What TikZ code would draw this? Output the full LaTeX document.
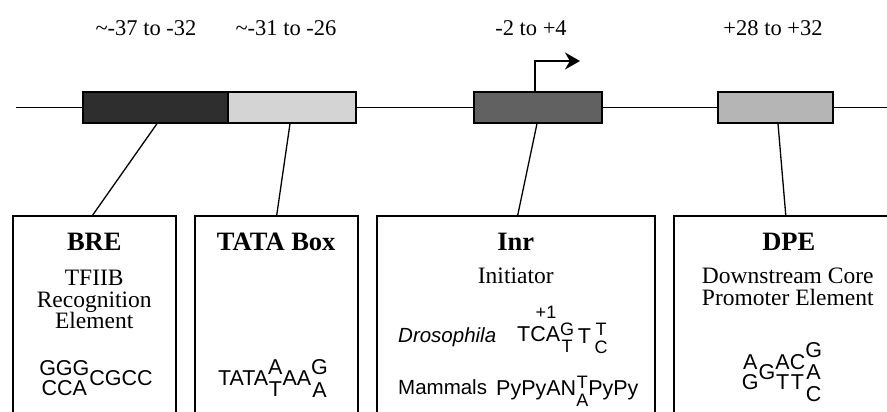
\documentclass[tikz,border=0pt]{standalone}
\usepackage{fontspec}
\setmainfont{Liberation Serif}
\setsansfont{Liberation Sans}
\usetikzlibrary{arrows.meta, positioning}

\definecolor{breclr}{gray}{0.18}
\definecolor{tataclr}{gray}{0.83}
\definecolor{inrclr}{gray}{0.38}
\definecolor{dpeclr}{gray}{0.71}

% bases stacked on top of each other, centred on the axis
\newcommand{\stk}[1]{$\vcenter{\hbox{\shortstack{#1}}}$}
\newcommand{\cen}[1]{$\vcenter{\hbox{#1}}$}
\newcommand{\smallbases}{\fontsize{18}{19}\selectfont}

\begin{document}
\begin{tikzpicture}[
    x=1pt, y=-1pt,
    seg/.style={
        draw, line width=1.3pt,
        minimum height=31pt,
        inner sep=0pt
    },
    panel/.style={
        draw, line width=1.5pt,
        anchor=north west,
        minimum height=240pt,
        inner sep=0pt
    },
    poslabel/.style={font=\fontsize{22.5}{24}\selectfont, anchor=base},
    head/.style={font=\fontsize{26.5}{28}\selectfont\bfseries, anchor=north, inner sep=0pt},
    desc/.style={font=\fontsize{23.5}{21.5}\selectfont, align=center, anchor=north, inner sep=0pt},
    seq/.style={font=\sffamily\fontsize{21.5}{23}\selectfont, inner sep=0pt},
    species/.style={font=\sffamily\fontsize{20.5}{22}\selectfont, anchor=base west, inner sep=0pt},
    link/.style={line width=1.3pt},
    tss/.style={line width=1.8pt, -{Stealth[length=15pt,width=17pt]}}
]

\useasboundingbox (0,0) rectangle (887,412);
\clip (0,0) rectangle (887,412);

% ===== DNA LINE =====
\coordinate (dnaL) at (16,108);
\coordinate (dnaR) at (890,108);
\draw[line width=1pt] (dnaL) -- (dnaR);

% ===== ELEMENTS ON THE PROMOTER =====
\node[seg, fill=breclr, minimum width=145pt] (bre) at (155.5,107.5) {};
\node[seg, fill=tataclr, minimum width=128pt] (tata) at (292,107.5) {};
\node[seg, fill=inrclr, minimum width=128pt] (inr) at (538,107.5) {};
\node[seg, fill=dpeclr, minimum width=115pt] (dpe) at (775.5,107.5) {};

% positions
\node[poslabel] (pbre) at (146,36) {\textasciitilde-37 to -32};
\node[poslabel] (ptata) at (286,36) {\textasciitilde-31 to -26};
\node[poslabel] (pinr) at (531,36) {-2 to +4};
\node[poslabel] (pdpe) at (773,36) {+28 to +32};

% start of transcription
\coordinate (tssfoot) at ([xshift=-3pt]inr.north);
\coordinate (tssend) at (580,61);
\draw[tss] (tssfoot) |- (tssend);

% ===== PANELS =====
\node[panel, minimum width=163pt] (brep) at (12,215) {};
\node[panel, minimum width=163pt] (tatap) at (194,215) {};
\node[panel, minimum width=278pt] (inrp) at (376,215) {};
\node[panel, minimum width=230pt] (dpep) at (673,215) {};

\draw[link] ([xshift=1.5pt]bre.south) -- ([xshift=-1.5pt]brep.north);
\draw[link] ([xshift=-2pt]tata.south) -- ([xshift=0.5pt]tatap.north);
\draw[link] ([xshift=-1pt]inr.south) -- ([xshift=2pt]inrp.north);
\draw[link] ([xshift=2.5pt]dpe.south) -- ([xshift=-3pt]dpep.north);

% BRE
\node[head] (hbre) at ([yshift=-18pt]brep.north) {BRE};
\node[desc] (dbre) at ([yshift=-55pt]brep.north) {TFIIB\\Recognition\\Element};
\node[seq] (sbre) at (96,378) {\stk{GGG\\[2pt]CCA}\cen{CGCC}};

% TATA
\node[head] (htata) at ([yshift=-18pt]tatap.north) {TATA Box};
\node[seq] (stata) at (273,378) {\cen{TATA}\stk{A\\[5pt]T}\cen{AA}\stk{G\\[5pt]A}};

% Inr
\node[head] (hinr) at ([yshift=-18pt]inrp.north) {Inr};
\node[desc] (dinr) at ([yshift=-53pt]inrp.north) {Initiator};
\node[species, font=\sffamily\itshape\fontsize{20.5}{22}\selectfont] (ldro) at (398,342) {Drosophila};
\node[seq, anchor=west] (sdro) at (517,338)
    {\cen{TCA}\raisebox{-3pt}{\smallbases\stk{G\\[2pt]T}}\,\raisebox{-2pt}{\cen{T}}\,\raisebox{-4pt}{\smallbases\stk{T\\[2pt]C}}};
\node[seq, font=\sffamily\fontsize{18}{19}\selectfont] (plus) at (546,312) {+1};
\node[species] (lmam) at (398,394) {Mammals};
\node[seq, anchor=west] (smam) at (496,391) {\cen{PyPyAN}{\smallbases\stk{T\\[3pt]A}}\cen{PyPy}};

% DPE
\node[head] (hdpe) at ([yshift=-18pt]dpep.north) {DPE};
\node[desc] (ddpe) at ([xshift=-1pt, yshift=-53pt]dpep.north) {Downstream Core\\Promoter Element};
\node[seq] (sdpe) at (782,372) {\stk{A\\[2pt]G}\cen{G}\stk{A\\[2pt]T}\stk{C\\[2pt]T}\stk{G\\[4pt]A\\[4pt]C}};

\end{tikzpicture}
\end{document}
